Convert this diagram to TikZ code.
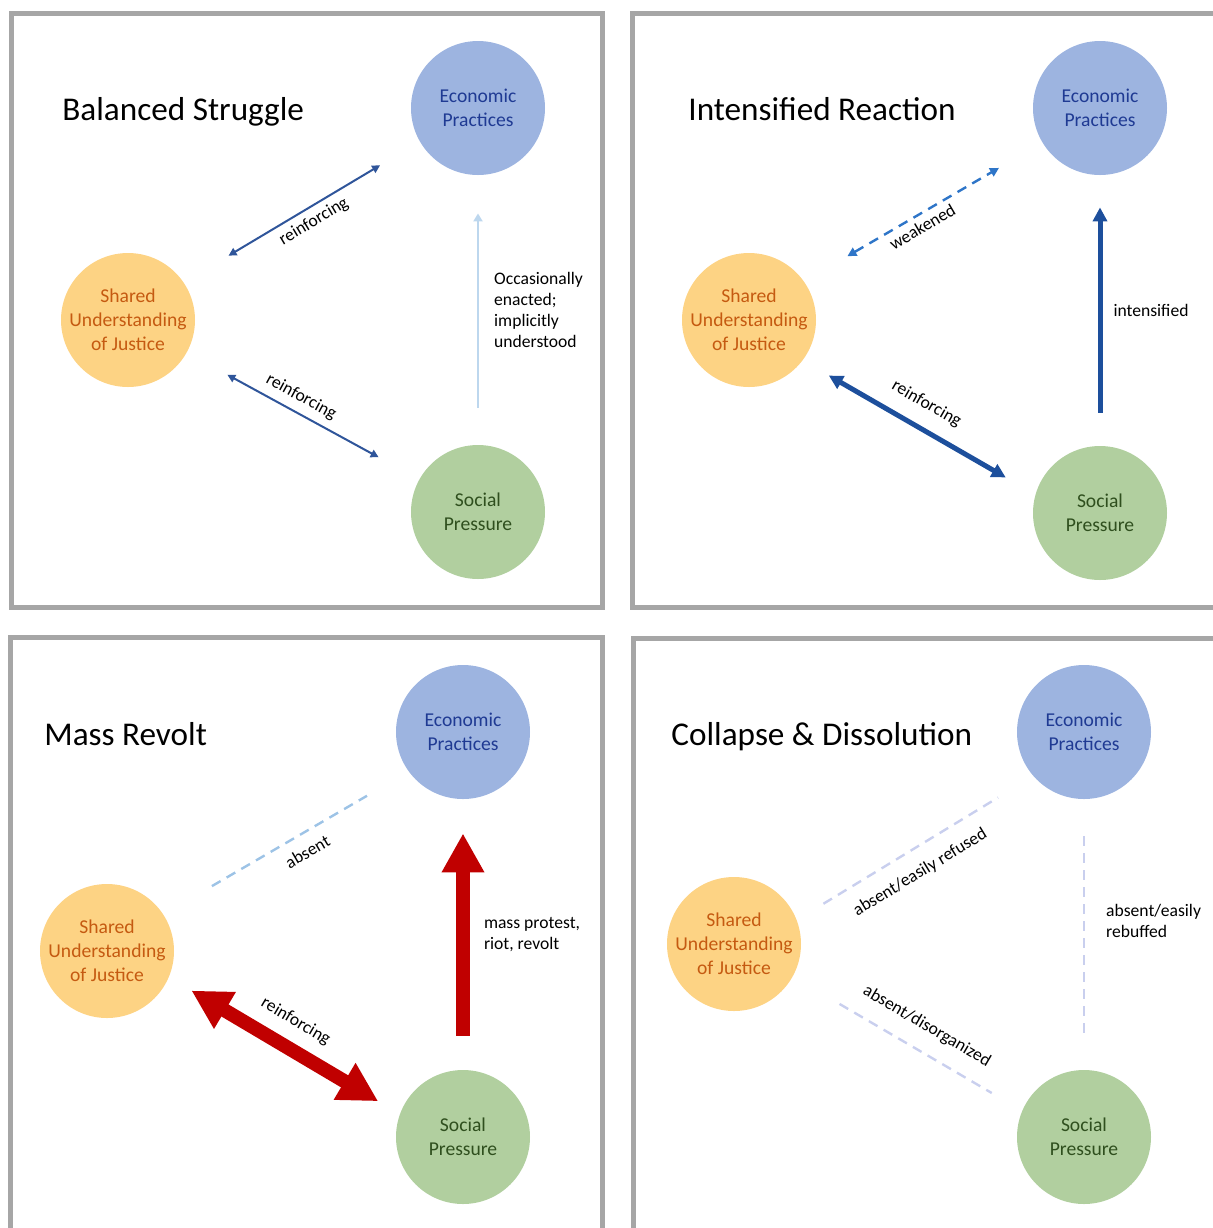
\documentclass[tikz,border=0pt]{standalone}
\usepackage{fontspec}
\setmainfont{Carlito}
\usetikzlibrary{arrows.meta}

\definecolor{framegray}{HTML}{A6A6A6}
\definecolor{econfill}{HTML}{9DB4E0}
\definecolor{econtext}{HTML}{1F3A93}
\definecolor{sharedfill}{HTML}{FDD384}
\definecolor{sharedtext}{HTML}{C55A11}
\definecolor{socialfill}{HTML}{B1CF9F}
\definecolor{socialtext}{HTML}{2F4F1E}
\definecolor{linkblue}{HTML}{2F559A}
\definecolor{darkblue}{HTML}{1D4F9C}
\definecolor{midblue}{HTML}{2E75C8}
\definecolor{paleblue}{HTML}{BDD7EE}
\definecolor{skyblue}{HTML}{9DC3E6}
\definecolor{lavender}{HTML}{C9CFEE}
\definecolor{revoltred}{HTML}{C00000}

\tikzset{
  panel/.style={draw=framegray, line width=2.5pt},
  paneltitle/.style={anchor=base west, inner sep=0pt, font=\fontsize{16.6}{20}\selectfont},
  bubble/.style={circle, minimum size=67pt, inner sep=0pt, align=center,
    font=\fontsize{9.8}{12}\selectfont},
  econ/.style={bubble, fill=econfill, text=econtext},
  shared/.style={bubble, fill=sharedfill, text=sharedtext},
  social/.style={bubble, fill=socialfill, text=socialtext},
  lbl/.style={inner sep=1pt, font=\fontsize{8.8}{10.6}\selectfont},
  thinlink/.style={draw=linkblue, line width=1pt},
  boldlink/.style={draw=darkblue, line width=2.5pt},
  redlink/.style={draw=revoltred, line width=7pt},
  dashlink/.style={line width=1.2pt, dash pattern=on 5pt off 3.5pt},
}

\begin{document}
\begin{tikzpicture}[x=0.5pt,y=-0.5pt]
\clip (0,0) rectangle (1213,1228);

% the four frames
\draw[panel] (11,13) rectangle (602,607);
\draw[panel] (632,13) rectangle (1240,607);
\draw[panel] (10.5,637) rectangle (602,1240);
\draw[panel] (633.5,638.5) rectangle (1240,1240);

% Balanced Struggle
\node[paneltitle] (titleA) at (62,120) {Balanced Struggle};
\node[econ] (econA) at (478,108) {Economic\\Practices};
\node[shared] (sharedA) at (128,320) {Shared\\Understanding\\of Justice};
\node[social] (socialA) at (478,512) {Social\\Pressure};
\draw[thinlink, {Triangle[length=4pt,width=4pt]}-{Triangle[length=4pt,width=4pt]},
  shorten <=26pt, shorten >=23pt]
  (sharedA.34) -- node[lbl, sloped, below=2pt, pos=0.52] {reinforcing} (econA.210);
\draw[thinlink, {Triangle[length=4pt,width=4pt]}-{Triangle[length=4pt,width=4pt]},
  shorten <=23pt, shorten >=23pt]
  (sharedA.-29) -- node[lbl, sloped, above=2.5pt, pos=0.46] {reinforcing} (socialA.151);
\draw[draw=paleblue, line width=1.2pt, -{Triangle[length=4pt,width=4.5pt]},
  shorten <=18.5pt, shorten >=19pt]
  (socialA.90) -- node[lbl, right=6.5pt, align=left, midway]
  {Occasionally\\enacted;\\implicitly\\understood} (econA.270);

% Intensified Reaction
\node[paneltitle] (titleB) at (688,120) {Intensified Reaction};
\node[econ] (econB) at (1100,108) {Economic\\Practices};
\node[shared] (sharedB) at (749,320) {Shared\\Understanding\\of Justice};
\node[social] (socialB) at (1100,513) {Social\\Pressure};
\draw[dashlink, draw=midblue, {Triangle[length=4.5pt,width=4.5pt]}-{Triangle[length=4.5pt,width=4.5pt]},
  shorten <=25pt, shorten >=25pt]
  (sharedB.35) -- node[lbl, sloped, below=1.5pt, pos=0.47] {weakened} (econB.-149);
\draw[boldlink, {Triangle[length=7pt,width=7pt]}-{Triangle[length=7pt,width=7pt]},
  shorten <=15pt, shorten >=17pt]
  (sharedB.-37) -- node[lbl, sloped, above=6pt, pos=0.48] {reinforcing} (socialB.164);
\draw[boldlink, -{Triangle[length=7pt,width=7pt]},
  shorten <=16.5pt, shorten >=16pt]
  (socialB.90) -- node[lbl, right=4.5pt, midway] {intensified} (econB.270);

% Mass Revolt
\node[paneltitle] (titleC) at (44,745) {Mass Revolt};
\node[econ] (econC) at (463,732) {Economic\\Practices};
\node[shared] (sharedC) at (107,951) {Shared\\Understanding\\of Justice};
\node[social] (socialC) at (463,1137) {Social\\Pressure};
\draw[dashlink, draw=skyblue, shorten <=28pt, shorten >=24pt]
  (sharedC.33) -- node[lbl, sloped, below=4.5pt, pos=0.55] {absent} (econC.-144);
\draw[redlink, {Triangle[length=19.5pt,width=20pt]}-{Triangle[length=19.5pt,width=20pt]},
  shorten <=13pt, shorten >=12.5pt]
  (sharedC.-23) -- node[lbl, sloped, above=5pt, pos=0.49] {reinforcing} (socialC.160);
\draw[redlink, -{Triangle[length=19.5pt,width=20pt]},
  shorten <=17pt, shorten >=17pt]
  (socialC.90) -- node[lbl, right=6pt, align=left, midway]
  {mass protest,\\riot, revolt} (econC.270);

% Collapse & Dissolution
\node[paneltitle] (titleD) at (671,745) {Collapse \& Dissolution};
\node[econ] (econD) at (1084,732) {Economic\\Practices};
\node[shared] (sharedD) at (734,944) {Shared\\Understanding\\of Justice};
\node[social] (socialD) at (1084,1137) {Social\\Pressure};
\draw[dashlink, draw=lavender, shorten <=15.5pt, shorten >=20.5pt]
  (sharedD.21) -- node[lbl, sloped, below=6.5pt, pos=0.47] {absent/easily refused} (econD.-139);
\draw[dashlink, draw=lavender, shorten <=27pt, shorten >=17.5pt]
  (sharedD.-29) -- node[lbl, sloped, above=7pt, pos=0.53] {absent/disorganized} (socialD.157);
\draw[dashlink, draw=lavender, shorten <=18.5pt, shorten >=18.5pt]
  (socialD.90) -- node[lbl, right=9.5pt, align=left, pos=0.55]
  {absent/easily\\rebuffed} (econD.270);
\end{tikzpicture}
\end{document}
